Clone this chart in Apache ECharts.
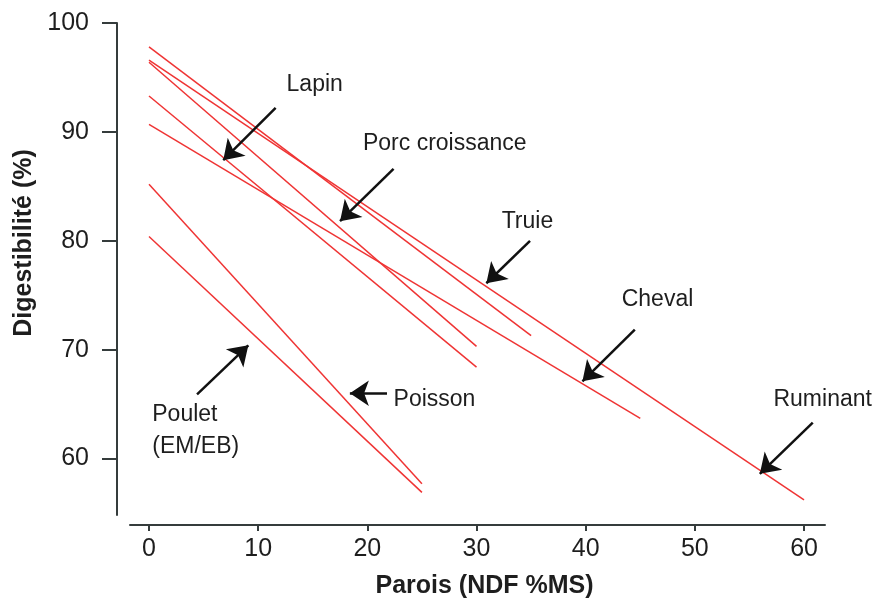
<!DOCTYPE html>
<html>
<head>
<meta charset="utf-8">
<script src="https://cdn.jsdelivr.net/npm/echarts@6/dist/echarts.min.js"></script>
<style>html,body{margin:0;padding:0;background:#fff}#c{width:884px;height:604px}</style>
</head>
<body>
<div id="c"></div>
<script>
// Species regression lines: digestibility vs NDF
const species  = ['Ruminant', 'Cheval', 'Truie', 'Porc croissance', 'Lapin', 'Poisson', 'Poulet'];
const ndfStart = [0, 0, 0, 0, 0, 0, 0];
const digStart = [96.6, 90.7, 97.8, 96.4, 93.3, 85.2, 80.4];
const ndfEnd   = [60, 45, 35, 30, 30, 25, 25];
const digEnd   = [56.2, 63.7, 71.3, 70.3, 68.4, 57.7, 56.9];

// Annotation labels (text, anchor in data units)
const labelTexts = ['Lapin', 'Porc croissance', 'Truie', 'Cheval', 'Ruminant', 'Poisson', 'Poulet\n(EM/EB)'];
const labelNdf   = [12.6, 19.6, 32.3, 43.3, 57.2, 22.4, 0.3];
const labelDig   = [94.3, 88.9, 81.8, 74.6, 65.4, 65.4, 62.6];

// Arrows (from -> to, data units)
const arrowFromNdf = [11.6, 22.4, 34.9, 44.5, 60.8, 21.8, 4.4];
const arrowFromDig = [92.2, 86.6, 80.0, 71.85, 63.3, 66.0, 65.9];
const arrowToNdf   = [6.8, 17.5, 30.9, 39.7, 55.95, 18.4, 9.1];
const arrowToDig   = [87.4, 81.8, 76.1, 67.1, 58.6, 66.0, 70.4];

// Tick labels
const xTicks = [0, 10, 20, 30, 40, 50, 60];
const yTicks = [60, 70, 80, 90, 100];

const chart = echarts.init(document.getElementById('c'), null, {renderer: 'canvas'});
const axisColor = '#353c3c';
const red = '#ef3434';
const textColor = '#1e1e1e';

const series = species.map((s, i) => ({
  name: s,
  type: 'line',
  data: [[ndfStart[i], digStart[i]], [ndfEnd[i], digEnd[i]]],
  symbol: 'none',
  lineStyle: {color: red, width: 1.5},
  silent: true,
  z: 2
}));

series.push({
  type: 'lines',
  coordinateSystem: 'cartesian2d',
  data: arrowFromNdf.map((x, i) => ({coords: [[x, arrowFromDig[i]], [arrowToNdf[i], arrowToDig[i]]]})),
  symbol: ['none', 'arrow'],
  symbolSize: [0, 19],
  lineStyle: {color: '#111', width: 2.5, opacity: 1},
  silent: true,
  z: 3
});

series.push({
  type: 'scatter',
  data: labelTexts.map((t, i) => ({value: [labelNdf[i], labelDig[i]], name: t})),
  symbolSize: 0,
  itemStyle: {opacity: 1},
  label: {
    show: true,
    position: [0, 0],
    align: 'left',
    verticalAlign: 'middle',
    formatter: p => p.name,
    fontFamily: 'Liberation Sans, Arial, sans-serif',
    fontSize: 23,
    color: textColor,
    opacity: 1,
    lineHeight: 32
  },
  silent: true,
  z: 4
});

chart.setOption({
  animation: false,
  backgroundColor: '#fff',
  grid: {left: 130, right: 59, top: 23, bottom: 84, containLabel: false},
  xAxis: {
    type: 'value',
    min: -1.74,
    max: 61.92,
    offset: 10,
    splitLine: {show: false},
    axisLine: {show: true, onZero: false, lineStyle: {color: axisColor, width: 2}},
    axisTick: {show: true, customValues: xTicks, length: 6, lineStyle: {color: axisColor, width: 2}},
    axisLabel: {
      customValues: xTicks,
      margin: 12,
      fontFamily: 'Liberation Sans, Arial, sans-serif',
      fontSize: 25,
      color: textColor
    },
    name: 'Parois (NDF %MS)',
    nameLocation: 'middle',
    nameGap: 49,
    nameTextStyle: {
      fontFamily: 'Liberation Sans, Arial, sans-serif',
      fontWeight: 'bold',
      fontSize: 25,
      color: textColor,
      padding: [0, 0, 0, 14]
    }
  },
  yAxis: {
    type: 'value',
    min: 54.82,
    max: 100,
    offset: 13,
    splitLine: {show: false},
    axisLine: {show: true, onZero: false, lineStyle: {color: axisColor, width: 2}},
    axisTick: {show: true, customValues: yTicks, length: 15, lineStyle: {color: axisColor, width: 2}},
    axisLabel: {
      customValues: yTicks,
      margin: 28,
      fontFamily: 'Liberation Sans, Arial, sans-serif',
      fontSize: 25,
      color: textColor
    },
    name: 'Digestibilité (%)',
    nameLocation: 'middle',
    nameGap: 79,
    nameTextStyle: {
      fontFamily: 'Liberation Sans, Arial, sans-serif',
      fontWeight: 'bold',
      fontSize: 25,
      color: textColor,
      padding: [0, 0, 0, 52]
    }
  },
  series: series
});
</script>
</body>
</html>
